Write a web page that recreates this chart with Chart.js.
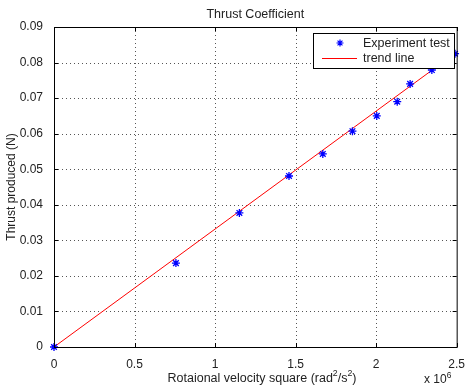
<!DOCTYPE html>
<html>
<head>
<meta charset="utf-8">
<script src="https://cdn.jsdelivr.net/npm/chart.js@4/dist/chart.umd.min.js"></script>
<style>
  html, body { margin: 0; padding: 0; background: #fff; }
  #wrap { width: 467px; height: 389px; position: relative; }
</style>
</head>
<body>
<div id="wrap"><canvas id="chart"></canvas></div>
<script>
// rotational velocity square, in units of 10^6 rad^2/s^2
const speedSq = [0, 0.757, 1.151, 1.459, 1.669, 1.853, 2.004, 2.131, 2.211, 2.346, 2.49];
const thrust = [0, 0.0236, 0.0377, 0.0481, 0.0543, 0.0607, 0.0650, 0.0690, 0.0740, 0.0779, 0.0825];

const trendX = [0, 2.49];
const trendY = [0, 0.0826];

const xTicks = [0, 0.5, 1, 1.5, 2, 2.5];
const yTicks = [0, 0.01, 0.02, 0.03, 0.04, 0.05, 0.06, 0.07, 0.08, 0.09];

const FONT = "'Liberation Sans', Arial, sans-serif";
const TEXT = "#222";

// draw pieces of text, some raised as superscripts
function drawRich(ctx, parts, x, y, size, align) {
  const widths = parts.map((p) => {
    ctx.font = (p.sup ? size * 0.7 : size) + "px " + FONT;
    return ctx.measureText(p.t).width;
  });
  const total = widths.reduce((a, b) => a + b, 0);
  let cx = align === "center" ? x - total / 2 : x;
  ctx.textAlign = "left";
  parts.forEach((p, i) => {
    ctx.font = (p.sup ? size * 0.7 : size) + "px " + FONT;
    ctx.fillText(p.t, cx, p.sup ? y - size * 0.4 : y);
    cx += widths[i];
  });
}

const dottedGrid = {
  id: "dottedGrid",
  beforeDatasetsDraw(chart) {
    const { ctx, chartArea: a, scales } = chart;
    ctx.save();
    ctx.strokeStyle = "#555";
    ctx.lineWidth = 1;
    ctx.setLineDash([1, 3]);
    ctx.beginPath();
    xTicks.slice(1, -1).forEach((t) => {
      const x = Math.round(scales.x.getPixelForValue(t)) + 0.5;
      ctx.moveTo(x, a.top); ctx.lineTo(x, a.bottom);
    });
    yTicks.slice(1, -1).forEach((t) => {
      const y = Math.round(scales.y.getPixelForValue(t)) + 0.5;
      ctx.moveTo(a.left, y); ctx.lineTo(a.right, y);
    });
    ctx.stroke();
    ctx.restore();
  },
};

const extras = {
  id: "extras",
  afterDraw(chart) {
    const { ctx, chartArea: a, scales } = chart;
    ctx.save();

    // box
    ctx.strokeStyle = "#000";
    ctx.lineWidth = 1;
    ctx.strokeRect(a.left + 0.5, a.top + 0.5, a.right - a.left, a.bottom - a.top);

    // inward tick marks on all sides
    ctx.beginPath();
    xTicks.forEach((t) => {
      const x = Math.round(scales.x.getPixelForValue(t)) + 0.5;
      ctx.moveTo(x, a.bottom); ctx.lineTo(x, a.bottom - 4);
      ctx.moveTo(x, a.top); ctx.lineTo(x, a.top + 4);
    });
    yTicks.forEach((t) => {
      const y = Math.round(scales.y.getPixelForValue(t)) + 0.5;
      ctx.moveTo(a.left, y); ctx.lineTo(a.left + 4, y);
      ctx.moveTo(a.right, y); ctx.lineTo(a.right - 4, y);
    });
    ctx.stroke();

    ctx.fillStyle = TEXT;
    ctx.textBaseline = "middle";

    // title
    ctx.font = "12.5px " + FONT;
    ctx.textAlign = "center";
    ctx.fillText("Thrust Coefficient", (a.left + a.right) / 2, 15);

    // x axis title
    drawRich(ctx, [
      { t: "Rotaional velocity square (rad" },
      { t: "2", sup: true },
      { t: "/s" },
      { t: "2", sup: true },
      { t: ")" },
    ], 262, 379, 12.5, "center");

    // exponent
    drawRich(ctx, [{ t: "x 10" }, { t: "6", sup: true }], 424, 380, 12, "left");

    // y axis title
    ctx.font = "12px " + FONT;
    ctx.save();
    ctx.translate(12, (a.top + a.bottom) / 2);
    ctx.rotate(-Math.PI / 2);
    ctx.textAlign = "center";
    ctx.fillText("Thrust produced (N)", 0, 0);
    ctx.restore();

    // legend
    const lx = 313, ly = 33, lw = 141, lh = 35;
    ctx.fillStyle = "#fff";
    ctx.fillRect(lx, ly, lw, lh);
    ctx.strokeStyle = "#000";
    ctx.strokeRect(lx + 0.5, ly + 0.5, lw, lh);

    ctx.strokeStyle = "#0000ff";
    ctx.lineWidth = 1.2;
    const sx = 340, sy = 43, r = 3.5;
    ctx.beginPath();
    ctx.moveTo(sx - r, sy); ctx.lineTo(sx + r, sy);
    ctx.moveTo(sx, sy - r); ctx.lineTo(sx, sy + r);
    ctx.moveTo(sx - r * 0.7, sy - r * 0.7); ctx.lineTo(sx + r * 0.7, sy + r * 0.7);
    ctx.moveTo(sx - r * 0.7, sy + r * 0.7); ctx.lineTo(sx + r * 0.7, sy - r * 0.7);
    ctx.stroke();

    ctx.strokeStyle = "#ff0000";
    ctx.lineWidth = 1;
    ctx.beginPath();
    ctx.moveTo(322, 58.5); ctx.lineTo(357, 58.5);
    ctx.stroke();

    ctx.fillStyle = TEXT;
    ctx.textAlign = "left";
    ctx.font = "12.5px " + FONT;
    ctx.fillText("Experiment test", 363, 44);
    ctx.fillText("trend line", 363, 59);

    ctx.restore();
  },
};

new Chart(document.getElementById("chart"), {
  type: "scatter",
  data: {
    datasets: [
      {
        label: "Experiment test",
        data: speedSq.map((x, i) => ({ x: x, y: thrust[i] })),
        pointStyle: "star",
        radius: 4,
        borderColor: "#0000ff",
        backgroundColor: "#0000ff",
        borderWidth: 1.3,
        clip: false,
        order: 0,
      },
      {
        label: "trend line",
        data: trendX.map((x, i) => ({ x: x, y: trendY[i] })),
        showLine: true,
        borderColor: "#ff0000",
        borderWidth: 1,
        pointRadius: 0,
        order: 1,
      },
    ],
  },
  plugins: [dottedGrid, extras],
  options: {
    responsive: true,
    maintainAspectRatio: false,
    animation: false,
    layout: { padding: { top: 27, right: 6, left: 0, bottom: 0 } },
    plugins: {
      legend: { display: false },
      title: { display: false },
      tooltip: { enabled: false },
    },
    scales: {
      x: {
        type: "linear",
        min: 0,
        max: 2.5,
        afterFit: (scale) => { scale.height = 42; },
        afterBuildTicks: (scale) => { scale.ticks = xTicks.map((v) => ({ value: v })); },
        ticks: {
          color: TEXT,
          font: { family: FONT, size: 12 },
          padding: 2,
          maxRotation: 0,
          callback: (v) => String(v),
        },
        grid: { display: false },
        border: { display: false },
      },
      y: {
        type: "linear",
        min: 0,
        max: 0.09,
        afterFit: (scale) => { scale.width = 54; },
        afterBuildTicks: (scale) => { scale.ticks = yTicks.map((v) => ({ value: v })); },
        ticks: {
          color: TEXT,
          font: { family: FONT, size: 12 },
          padding: 3,
          callback: (v) => (v === 0 ? "0" : v.toFixed(2)),
        },
        grid: { display: false },
        border: { display: false },
      },
    },
  },
});
</script>
</body>
</html>
